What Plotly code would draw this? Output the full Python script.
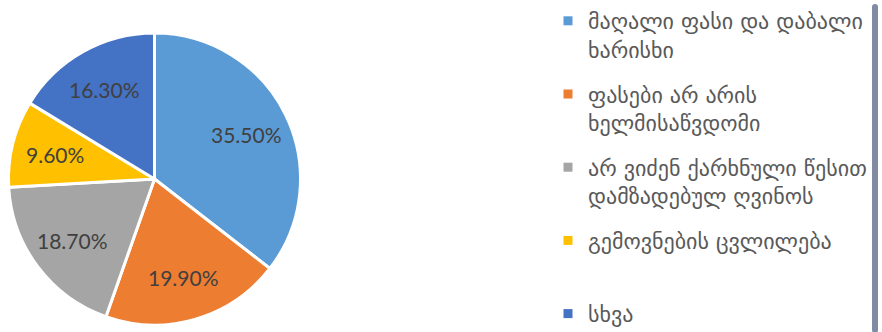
import math
import plotly.graph_objects as go

labels = [
    "მაღალი ფასი და დაბალი<br>ხარისხი",
    "ფასები არ არის<br>ხელმისაწვდომი",
    "არ ვიძენ ქარხნული წესით<br>დამზადებულ ღვინოს",
    "გემოვნების ცვლილება<br> ",
    "სხვა",
]
values = [35.5, 19.9, 18.7, 9.6, 16.3]
text_labels = ["35.50%", "19.90%", "18.70%", "9.60%", "16.30%"]
colors = ["#5B9BD5", "#ED7D31", "#A5A5A5", "#FFC000", "#4472C4"]

W, H = 882, 332
dom_x = [8 / W, 301 / W]
dom_y = [1 - 325 / H, 1 - 33 / H]

fig = go.Figure()
fig.add_trace(go.Pie(
    labels=labels,
    values=values,
    textinfo="none",
    sort=False,
    direction="clockwise",
    rotation=0,
    showlegend=False,
    marker=dict(colors=colors, line=dict(color="white", width=3)),
    domain=dict(x=dom_x, y=dom_y),
))

# legend entries (one group each so spacing can be set)
for i, (lab, col) in enumerate(zip(labels, colors)):
    fig.add_trace(go.Scatter(
        x=[None], y=[None], mode="markers", name=lab,
        legendgroup=str(i),
        marker=dict(symbol="square", size=9, color=col),
    ))

# data labels placed along each slice's mid-angle
cx = (dom_x[0] + dom_x[1]) / 2 * W
cy = (1 - (dom_y[0] + dom_y[1]) / 2) * H
R = min((dom_x[1] - dom_x[0]) * W, (dom_y[1] - dom_y[0]) * H) / 2
total = sum(values)
cum = 0.0
annotations = []
for v, t in zip(values, text_labels):
    mid = (cum + v / 2) / total * 2 * math.pi
    cum += v
    r = 0.70 * R
    px = cx + r * math.sin(mid)
    py = cy - r * math.cos(mid)
    annotations.append(dict(
        x=px / W, y=1 - py / H, xref="paper", yref="paper",
        xanchor="center", yanchor="middle",
        text=t, showarrow=False,
        font=dict(family="Lato", size=21, color="#404040"),
    ))

fig.update_layout(
    width=W, height=H,
    margin=dict(l=0, r=0, t=0, b=0),
    paper_bgcolor="white",
    plot_bgcolor="white",
    xaxis=dict(visible=False),
    yaxis=dict(visible=False),
    annotations=annotations,
    legend=dict(
        x=548 / W, y=1.0, xanchor="left", yanchor="top",
        valign="top",
        tracegroupgap=13,
        font=dict(family="DejaVu Sans", size=22, color="#595959"),
        itemwidth=30,
    ),
)
fig.write_html("out.html")
